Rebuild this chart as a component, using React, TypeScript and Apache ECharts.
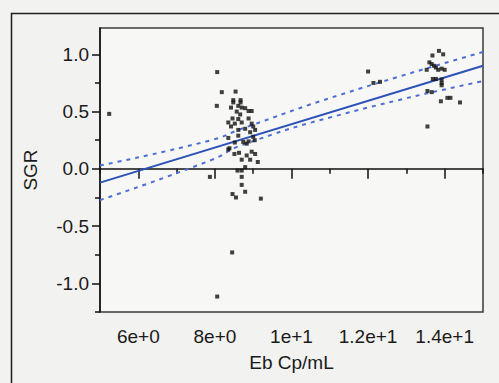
import React, { useEffect, useRef } from "react";
import * as echarts from "echarts";

// Eb Cp/mL (x) and SGR (y) observations
const ebValues: number[] = [
  5.24, 7.87, 8.06, 8.18, 8.05, 8.06, 8.45, 9.2,
  8.54, 8.48, 8.48, 8.67, 8.67, 8.42, 8.61, 8.7, 8.79, 8.88, 8.96, 8.57,
  8.66, 8.46, 8.61, 8.88, 8.35, 8.52, 8.42, 8.7, 8.96, 9.05, 8.79, 8.92,
  8.61, 8.35, 8.61, 8.74, 8.83, 8.88, 9.0, 8.52, 8.35, 8.51, 8.63, 8.83,
  8.96, 9.05, 8.92, 9.12, 8.7, 8.59, 8.7, 8.79, 8.7, 8.7, 8.79, 8.46,
  8.55, 9.0, 8.38, 9.04,
  12.0, 12.14, 12.31,
  13.68, 13.85, 13.96, 13.6, 13.66, 13.72, 13.77, 13.83, 13.92, 14.0,
  13.53, 13.69, 13.77, 13.92, 13.92, 13.92, 13.55, 13.66, 13.9, 14.07,
  14.15, 14.4, 13.55,
];
const sgrValues: number[] = [
  0.48, -0.07, 0.845, 0.67, 0.55, -1.115, -0.73, -0.26,
  0.675, 0.6, 0.58, 0.6, 0.58, 0.535, 0.55, 0.535, 0.53, 0.505, 0.505, 0.5,
  0.475, 0.44, 0.435, 0.44, 0.405, 0.395, 0.37, 0.405, 0.395, 0.34, 0.35, 0.32,
  0.34, 0.27, 0.29, 0.235, 0.22, 0.24, 0.28, 0.23, 0.17, 0.13, 0.14, 0.117,
  0.15, 0.13, 0.08, 0.06, 0.08, -0.015, -0.015, 0.015, -0.07, -0.14, -0.2, -0.22,
  -0.25, 0.37, 0.18, 0.25,
  0.85, 0.75, 0.76,
  0.99, 1.03, 1.0, 0.93, 0.915, 0.9, 0.885, 0.865, 0.875, 0.865,
  0.865, 0.785, 0.785, 0.78, 0.75, 0.73, 0.68, 0.67, 0.59, 0.62,
  0.62, 0.58, 0.37,
];

// fitted line and confidence band
const fitX: number[] = [5, 15];
const fitY: number[] = [-0.12, 0.9];
const bandX: number[] = [5, 7.9, 8.7, 11.3, 15];
const upperY: number[] = [0.03, 0.25, 0.35, 0.65, 1.02];
const lowerY: number[] = [-0.273, 0.076, 0.207, 0.475, 0.766];

const xMajorTicks: number[] = [6, 8, 10, 12, 14];
const xMinorTicks: number[] = [5, 7, 9, 11, 13, 15];
const yMajorTicks: number[] = [-1, -0.5, 0, 0.5, 1];
const yMinorTicks: number[] = [-1.25, -0.75, -0.25, 0.25, 0.75];

const FONT = "'Liberation Sans', Arial, sans-serif";

function fmtX(v: number): string {
  const e = Math.floor(Math.log10(Math.abs(v)));
  const m = v / Math.pow(10, e);
  const ms = Number.isInteger(m) ? String(m) : String(+m.toFixed(2));
  return ms + "e+" + e;
}

export default function App() {
  const ref = useRef<HTMLDivElement>(null);
  useEffect(() => {
    if (!ref.current) return;
    const chart = echarts.init(ref.current, null, { renderer: "svg" });
    const zip = (xs: number[], ys: number[]) => xs.map((x, i) => [x, ys[i]]);
    chart.setOption({
      animation: false,
      backgroundColor: "#f2f2f0",
      grid: {
        left: 100,
        top: 28,
        right: 16,
        bottom: 71,
        show: true,
        backgroundColor: "#f7f7f5",
        borderColor: "#3a3a3a",
        borderWidth: 1.5,
      },
      graphic: [
        {
          type: "polyline",
          shape: { points: [[11.5, 400], [11.5, 13.5], [499, 13.5]] },
          style: { fill: "none", stroke: "#1e1e1e", lineWidth: 1.5 },
          silent: true,
        },
      ],
      xAxis: [
        {
          type: "value",
          min: 5,
          max: 15,
          position: "bottom",
          splitLine: { show: false },
          axisLine: { lineStyle: { color: "#111", width: 1.5 } },
          axisTick: {
            customValues: xMajorTicks,
            length: 10,
            lineStyle: { color: "#111", width: 1.5 },
          },
          axisLabel: {
            customValues: xMajorTicks,
            formatter: (v: number) => fmtX(v),
            fontFamily: FONT,
            fontSize: 19,
            color: "#1a1a1a",
            margin: 15,
          },
          name: "Eb Cp/mL",
          nameLocation: "middle",
          nameGap: 41,
          nameTextStyle: { fontFamily: FONT, fontSize: 19, color: "#1a1a1a" },
        },
        {
          type: "value",
          min: 5,
          max: 15,
          position: "bottom",
          splitLine: { show: false },
          axisLine: { show: false },
          axisTick: {
            customValues: xMinorTicks,
            length: 5,
            lineStyle: { color: "#111", width: 1.5 },
          },
          axisLabel: { show: false },
        },
      ],
      yAxis: [
        {
          type: "value",
          min: -1.25,
          max: 1.23,
          position: "left",
          splitLine: { show: false },
          axisLine: { lineStyle: { color: "#111", width: 1.5 } },
          axisTick: {
            customValues: yMajorTicks,
            length: 8,
            lineStyle: { color: "#111", width: 1.5 },
          },
          axisLabel: {
            customValues: yMajorTicks,
            formatter: (v: number) => v.toFixed(1),
            fontFamily: FONT,
            fontSize: 19,
            color: "#1a1a1a",
            margin: 11,
          },
          name: "SGR",
          nameLocation: "middle",
          nameGap: 60,
          nameTextStyle: { fontFamily: FONT, fontSize: 19, color: "#1a1a1a" },
        },
        {
          type: "value",
          min: -1.25,
          max: 1.23,
          position: "left",
          splitLine: { show: false },
          axisLine: { show: false },
          axisTick: {
            customValues: yMinorTicks,
            length: 5,
            lineStyle: { color: "#111", width: 1.5 },
          },
          axisLabel: { show: false },
        },
      ],
      series: [
        {
          type: "line",
          data: zip(bandX, upperY),
          smooth: true,
          symbol: "none",
          lineStyle: { color: "#4d6fd2", width: 2, type: [4, 5] },
          z: 2,
        },
        {
          type: "line",
          data: zip(bandX, lowerY),
          smooth: true,
          symbol: "none",
          lineStyle: { color: "#4d6fd2", width: 2, type: [4, 5] },
          z: 2,
        },
        {
          type: "line",
          data: zip(fitX, fitY),
          symbol: "none",
          lineStyle: { color: "#2c52b8", width: 2 },
          z: 3,
        },
        {
          type: "scatter",
          data: zip(ebValues, sgrValues),
          symbol: "rect",
          symbolSize: 4,
          itemStyle: { color: "#111" },
          z: 4,
        },
      ],
    });
    return () => chart.dispose();
  }, []);
  return (
    <div
      ref={ref}
      style={{ position: "fixed", left: 0, top: 0, width: 499, height: 383 }}
    />
  );
}
